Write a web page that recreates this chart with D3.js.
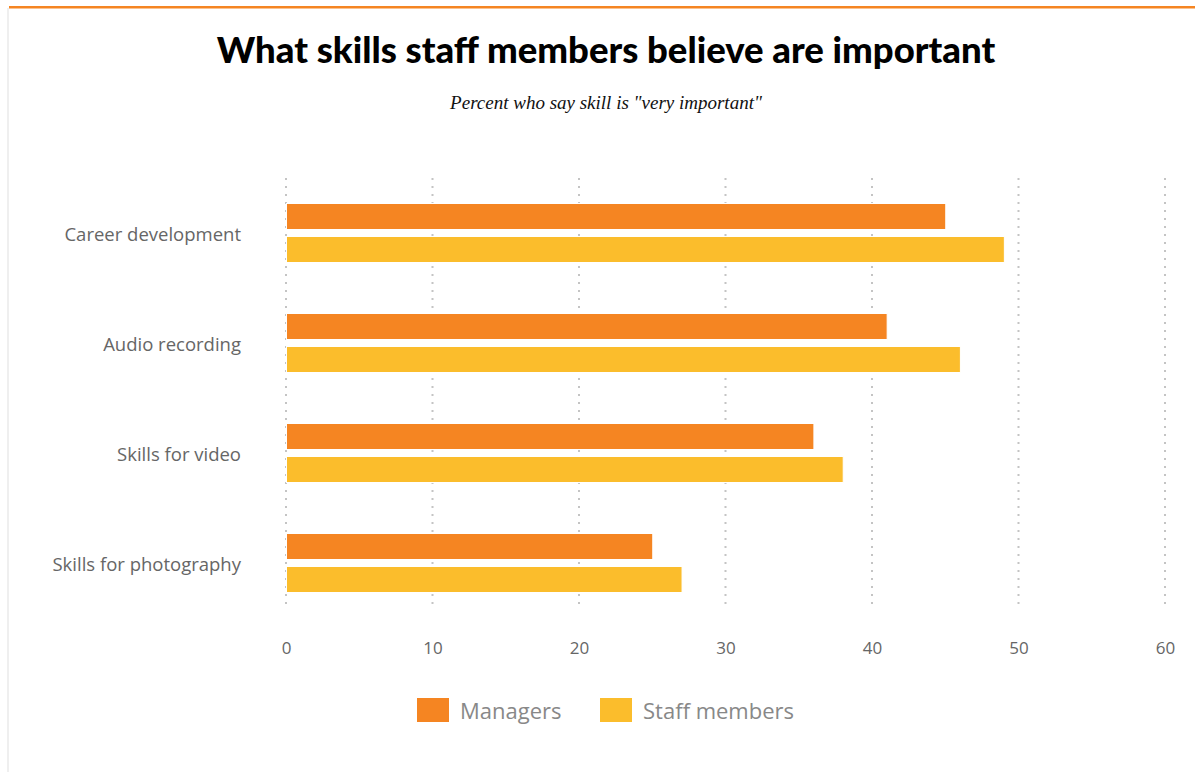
<!DOCTYPE html>
<html>
<head>
<meta charset="utf-8">
<script src="https://cdn.jsdelivr.net/npm/d3@7"></script>
<style>
  html, body { margin: 0; padding: 0; background: #fff; }
  svg { display: block; }
</style>
</head>
<body>
<svg id="chart" width="1195" height="772"></svg>
<script>
// Survey results: share who rate each skill as "very important"
const categories = ["Career development", "Audio recording", "Skills for video", "Skills for photography"];
const seriesNames = ["Managers", "Staff members"];
const managers = [45, 41, 36, 25];
const staffMembers = [49, 46, 38, 27];
const xTicks = [0, 10, 20, 30, 40, 50, 60];

const colors = { "Managers": "#f58522", "Staff members": "#fbbd2c" };

const rows = categories.map((c, i) => ({
  category: c,
  values: [
    { series: "Managers", value: managers[i] },
    { series: "Staff members", value: staffMembers[i] }
  ]
}));

const svg = d3.select("#chart");

// frame: orange rule on top, light rule on the left
svg.append("rect").attr("x", 7).attr("y", 8).attr("width", 2).attr("height", 764).attr("fill", "#efefef");
svg.append("rect").attr("x", 9).attr("y", 6).attr("width", 1186).attr("height", 2.5).attr("fill", "#f58522");

// titles
svg.append("text")
  .attr("x", 606).attr("y", 63)
  .attr("text-anchor", "middle")
  .style("font-family", "Lato, 'Open Sans', sans-serif")
  .style("font-weight", 900)
  .style("font-size", "36.5px")
  .attr("fill", "#000")
  .text("What skills staff members believe are important");

svg.append("text")
  .attr("x", 606).attr("y", 109)
  .attr("text-anchor", "middle")
  .style("font-family", "'Liberation Serif', serif")
  .style("font-style", "italic")
  .style("font-size", "19px")
  .attr("fill", "#111")
  .text("Percent who say skill is \"very important\"");

// scales
const x = d3.scaleLinear().domain([0, 60]).range([286, 1165]);
const y = d3.scaleBand().domain(categories).range([178, 618]);
const ySeries = d3.scaleBand().domain(seriesNames)
  .range([0, y.bandwidth()])
  .paddingInner(0.212)
  .paddingOuter(0.773);

// dotted gridlines
const grid = svg.append("g");
grid.selectAll("line").data(xTicks).join("line")
  .attr("x1", d => x(d)).attr("x2", d => x(d))
  .attr("y1", 178).attr("y2", 610)
  .attr("stroke", "#c4c4c4")
  .attr("stroke-width", 2)
  .attr("stroke-dasharray", "2,6");

// bars
const groups = svg.append("g").selectAll("g").data(rows).join("g")
  .attr("transform", d => `translate(0,${y(d.category)})`);

groups.selectAll("rect").data(d => d.values).join("rect")
  .attr("x", x(0) + 0.5)
  .attr("y", d => ySeries(d.series))
  .attr("width", d => x(d.value) - x(0))
  .attr("height", ySeries.bandwidth())
  .attr("fill", d => colors[d.series])
  .attr("stroke", "#fff")
  .attr("stroke-width", 1);

// category labels
const yAxis = d3.axisLeft(y).tickSize(0).tickPadding(0);
const yg = svg.append("g").attr("transform", "translate(241,2)").call(yAxis);
yg.select(".domain").remove();
yg.selectAll("text")
  .style("font-family", "'Open Sans', sans-serif")
  .style("font-size", "18.5px")
  .attr("fill", "#666");

// x tick labels
const xAxis = d3.axisBottom(x).tickValues(xTicks).tickSize(0).tickPadding(0);
const xg = svg.append("g").attr("transform", "translate(0,642)").call(xAxis);
xg.select(".domain").remove();
xg.selectAll("text")
  .style("font-family", "'Open Sans', sans-serif")
  .style("font-size", "17px")
  .attr("fill", "#666");

// legend
const legend = svg.append("g");
const legendX = [417, 600];
seriesNames.forEach((s, i) => {
  const g = legend.append("g").attr("transform", `translate(${legendX[i]},698)`);
  g.append("rect").attr("width", 32).attr("height", 24).attr("fill", colors[s]);
  g.append("text")
    .attr("x", 43).attr("y", 21)
    .style("font-family", "'Open Sans', sans-serif")
    .style("font-size", "22px")
    .attr("fill", "#888")
    .text(s);
});
</script>
</body>
</html>
